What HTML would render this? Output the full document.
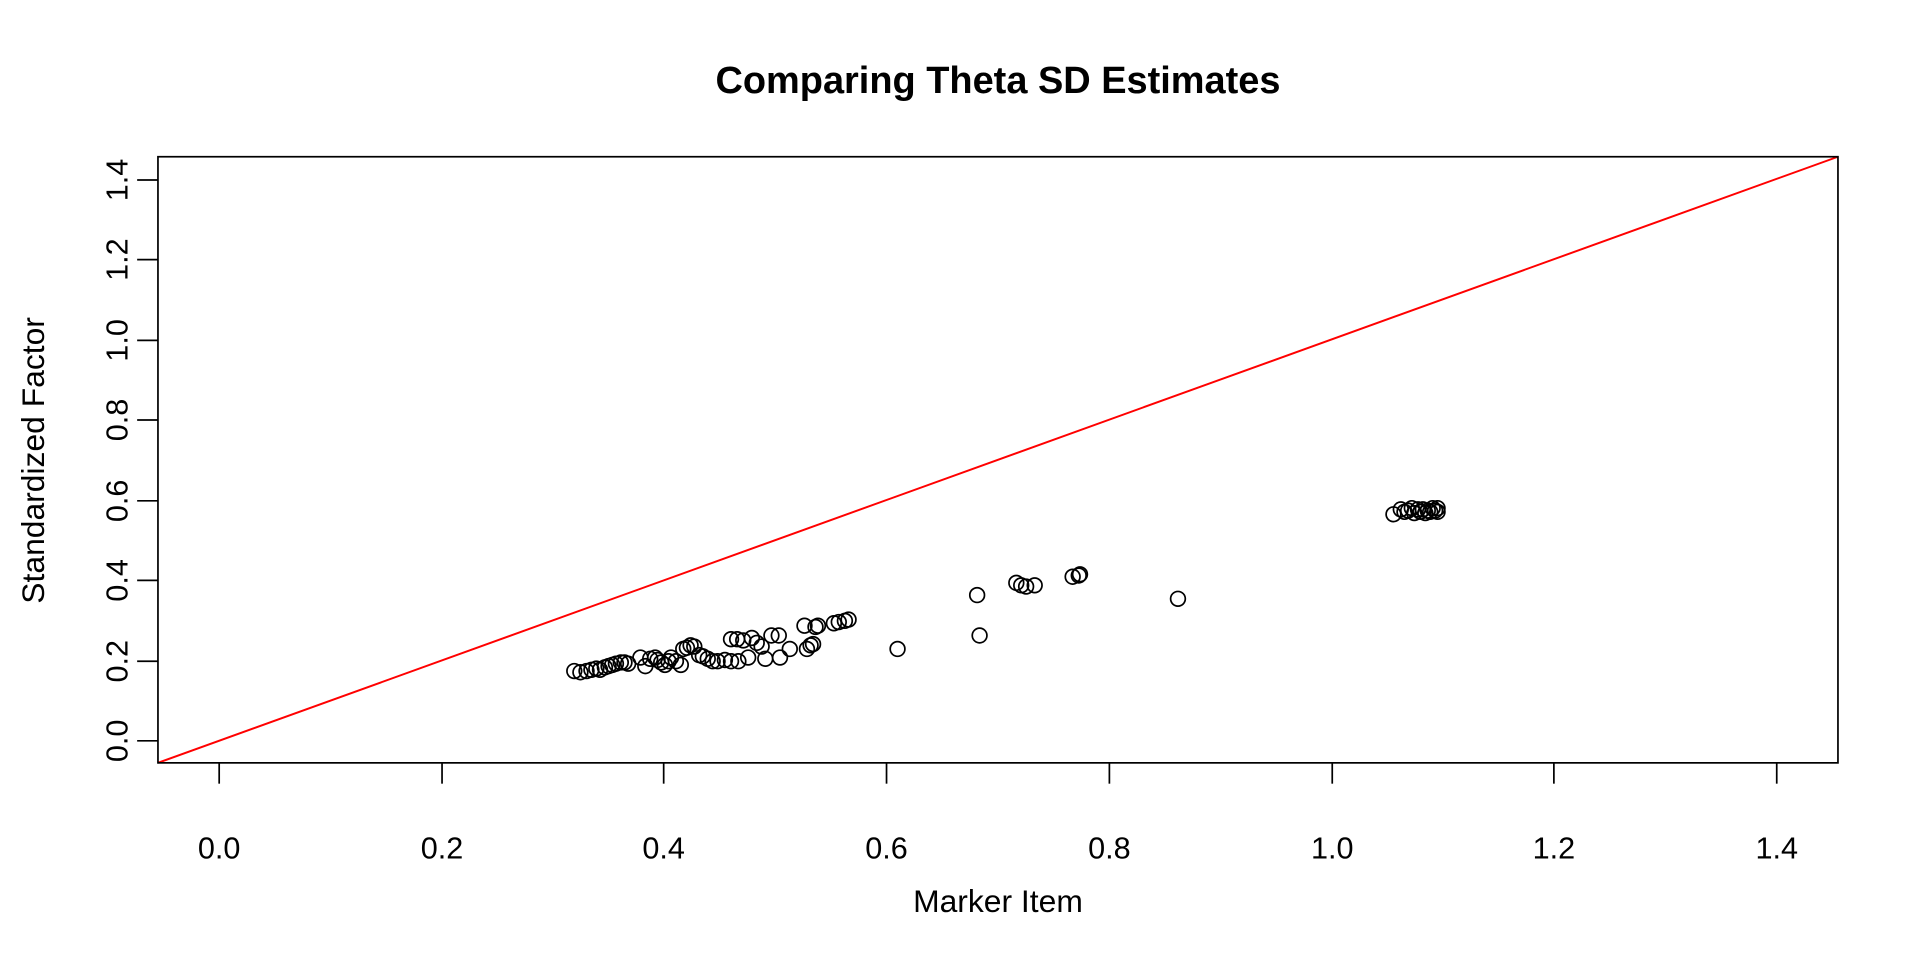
<!DOCTYPE html>
<html><head><meta charset="utf-8"><style>
html,body{margin:0;padding:0;background:#fff;}
svg{display:block;}
text{font-family:"Liberation Sans",Arial,sans-serif;fill:#000;}
</style></head><body>
<svg width="1920" height="960" viewBox="0 0 1568 784" xmlns="http://www.w3.org/2000/svg">
<rect width="1568" height="784" fill="#fff"/>
<text x="815" y="76" font-size="31" font-weight="bold" text-anchor="middle">Comparing Theta SD Estimates</text>
<line x1="129" y1="623" x2="1501" y2="128" stroke="#ff0000" stroke-width="1.6"/>
<rect x="129" y="128" width="1372" height="495" fill="none" stroke="#000" stroke-width="1.4"/>
<g stroke="#000" stroke-width="1.4">
<line x1="179" y1="623" x2="179" y2="640"/><line x1="361" y1="623" x2="361" y2="640"/><line x1="542" y1="623" x2="542" y2="640"/><line x1="724" y1="623" x2="724" y2="640"/><line x1="906" y1="623" x2="906" y2="640"/><line x1="1088" y1="623" x2="1088" y2="640"/><line x1="1269" y1="623" x2="1269" y2="640"/><line x1="1451" y1="623" x2="1451" y2="640"/>
<line x1="112" y1="605" x2="129" y2="605"/><line x1="112" y1="540" x2="129" y2="540"/><line x1="112" y1="474" x2="129" y2="474"/><line x1="112" y1="409" x2="129" y2="409"/><line x1="112" y1="343" x2="129" y2="343"/><line x1="112" y1="278" x2="129" y2="278"/><line x1="112" y1="212" x2="129" y2="212"/><line x1="112" y1="147" x2="129" y2="147"/>
</g>
<g font-size="25" text-anchor="middle">
<text x="179" y="701">0.0</text><text x="361" y="701">0.2</text><text x="542" y="701">0.4</text><text x="724" y="701">0.6</text><text x="906" y="701">0.8</text><text x="1088" y="701">1.0</text><text x="1269" y="701">1.2</text><text x="1451" y="701">1.4</text>
<text transform="translate(104,605) rotate(-90)">0.0</text><text transform="translate(104,540) rotate(-90)">0.2</text><text transform="translate(104,474) rotate(-90)">0.4</text><text transform="translate(104,409) rotate(-90)">0.6</text><text transform="translate(104,343) rotate(-90)">0.8</text><text transform="translate(104,278) rotate(-90)">1.0</text><text transform="translate(104,212) rotate(-90)">1.2</text><text transform="translate(104,147) rotate(-90)">1.4</text>
</g>
<g font-size="26" text-anchor="middle">
<text x="815" y="745">Marker Item</text>
<text transform="translate(36,376) rotate(-90)">Standardized Factor</text>
</g>
<g fill="none" stroke="#000" stroke-width="1.4">
<circle cx="469" cy="548" r="6"/><circle cx="474" cy="549" r="6"/><circle cx="479" cy="548" r="6"/><circle cx="483" cy="547" r="6"/><circle cx="487" cy="546" r="6"/><circle cx="490" cy="547" r="6"/><circle cx="494" cy="545" r="6"/><circle cx="497" cy="544" r="6"/><circle cx="500" cy="543" r="6"/><circle cx="503" cy="542" r="6"/><circle cx="507" cy="541" r="6"/><circle cx="510" cy="541" r="6"/><circle cx="513" cy="542" r="6"/><circle cx="523" cy="537" r="6"/><circle cx="527" cy="544" r="6"/><circle cx="531" cy="538" r="6"/><circle cx="535" cy="537" r="6"/><circle cx="537" cy="539" r="6"/><circle cx="540" cy="541" r="6"/><circle cx="543" cy="543" r="6"/><circle cx="546" cy="540" r="6"/><circle cx="548" cy="537" r="6"/><circle cx="552" cy="540" r="6"/><circle cx="556" cy="543" r="6"/><circle cx="558" cy="530" r="6"/><circle cx="561" cy="529" r="6"/><circle cx="564" cy="527" r="6"/><circle cx="567" cy="528" r="6"/><circle cx="571" cy="535" r="6"/><circle cx="574" cy="536" r="6"/><circle cx="578" cy="538" r="6"/><circle cx="582" cy="540" r="6"/><circle cx="586" cy="540" r="6"/><circle cx="592" cy="539" r="6"/><circle cx="597" cy="540" r="6"/><circle cx="603" cy="540" r="6"/><circle cx="597" cy="522" r="6"/><circle cx="602" cy="522" r="6"/><circle cx="607" cy="523" r="6"/><circle cx="611" cy="537" r="6"/><circle cx="614" cy="521" r="6"/><circle cx="618" cy="525" r="6"/><circle cx="622" cy="528" r="6"/><circle cx="625" cy="538" r="6"/><circle cx="630" cy="519" r="6"/><circle cx="636" cy="519" r="6"/><circle cx="637" cy="537" r="6"/><circle cx="645" cy="530" r="6"/><circle cx="657" cy="511" r="6"/><circle cx="659" cy="530" r="6"/><circle cx="662" cy="527" r="6"/><circle cx="664" cy="526" r="6"/><circle cx="666" cy="512" r="6"/><circle cx="668" cy="511" r="6"/><circle cx="681" cy="509" r="6"/><circle cx="685" cy="508" r="6"/><circle cx="690" cy="507" r="6"/><circle cx="693" cy="506" r="6"/><circle cx="733" cy="530" r="6"/><circle cx="798" cy="486" r="6"/><circle cx="800" cy="519" r="6"/><circle cx="830" cy="476" r="6"/><circle cx="834" cy="478" r="6"/><circle cx="838" cy="479" r="6"/><circle cx="845" cy="478" r="6"/><circle cx="876" cy="471" r="6"/><circle cx="881" cy="470" r="6"/><circle cx="882" cy="469" r="6"/><circle cx="962" cy="489" r="6"/>
<circle cx="1138" cy="420" r="6"/><circle cx="1144" cy="416" r="6"/><circle cx="1147" cy="418" r="6"/><circle cx="1150" cy="417" r="6"/><circle cx="1153" cy="415" r="6"/><circle cx="1155" cy="419" r="6"/><circle cx="1158" cy="416" r="6"/><circle cx="1160" cy="418" r="6"/><circle cx="1162" cy="416" r="6"/><circle cx="1164" cy="419" r="6"/><circle cx="1166" cy="417" r="6"/><circle cx="1168" cy="418" r="6"/><circle cx="1170" cy="415" r="6"/><circle cx="1172" cy="417" r="6"/><circle cx="1174" cy="418" r="6"/><circle cx="1174" cy="415" r="6"/>
</g>
</svg>
</body></html>
